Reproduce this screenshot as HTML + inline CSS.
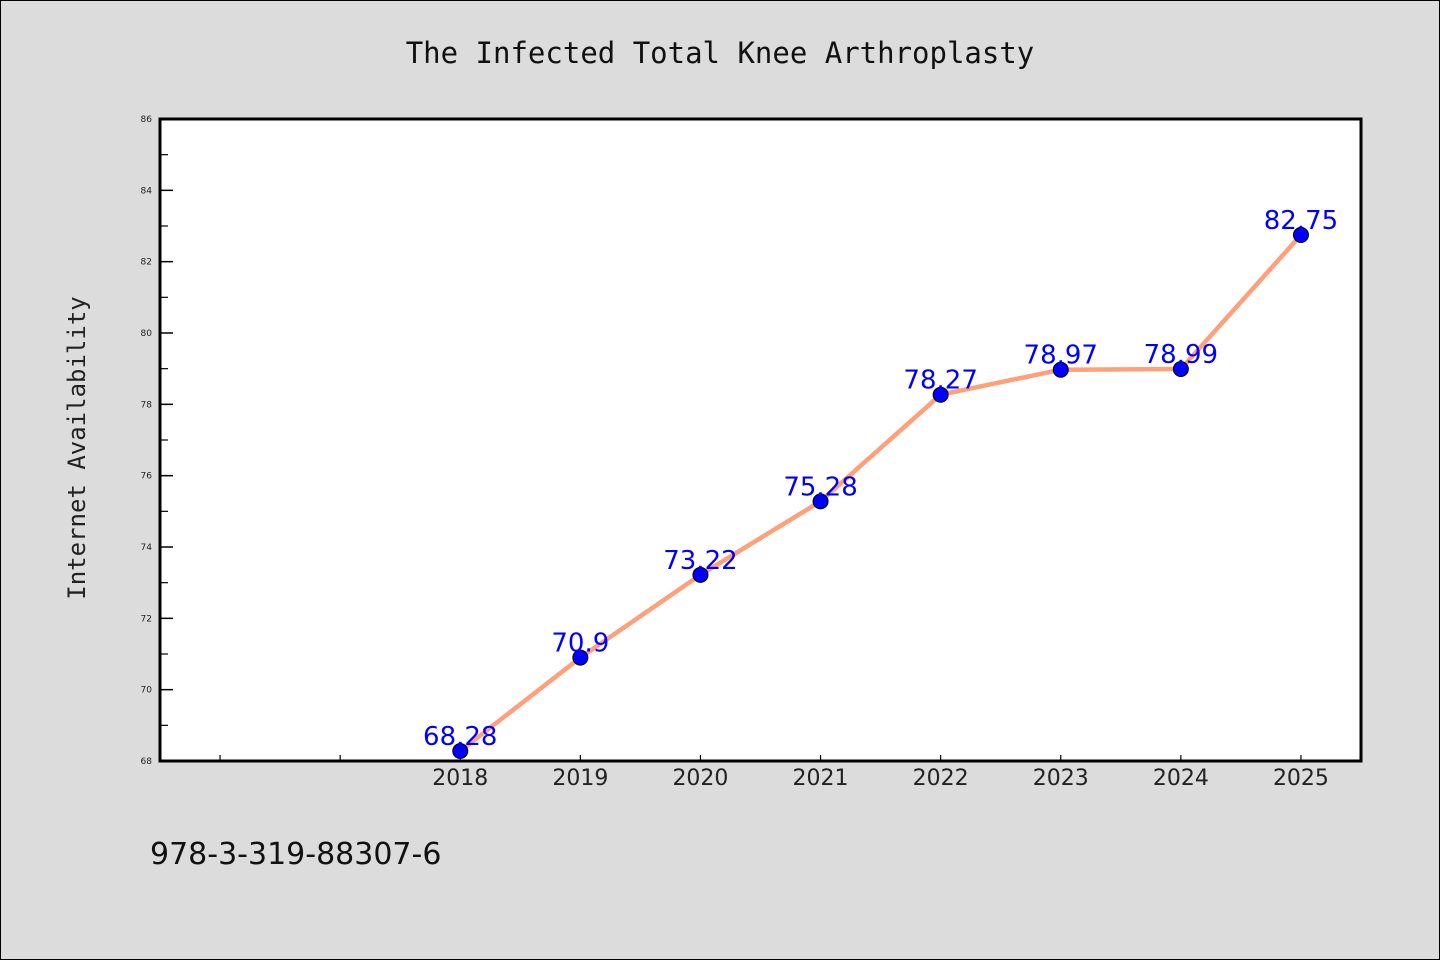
<!DOCTYPE html>
<html><head><meta charset="utf-8"><style>
html,body{margin:0;padding:0;background:#dcdcdc;}
svg{display:block;font-family:"DejaVu Sans","Liberation Sans",sans-serif;}
</style></head><body>
<svg id="chart" width="1440" height="960">
<rect x="0.5" y="0.5" width="1439" height="959" fill="#dcdcdc" stroke="#000"/>
<text x="720" y="63" text-anchor="middle" font-size="29" font-family="DejaVu Sans Mono, Liberation Mono, monospace" fill="#111">The Infected Total Knee Arthroplasty</text>
<rect x="160" y="119" width="1201" height="642" fill="#fff"/>
<g id="ticks"></g>
<g id="series"></g>
<rect x="160" y="119" width="1201" height="642" fill="none" stroke="#000" stroke-width="3"/>
<text transform="translate(85,448) rotate(-90)" text-anchor="middle" font-size="24" font-family="DejaVu Sans Mono, Liberation Mono, monospace" fill="#222">Internet Availability</text>
<text x="150" y="864" font-size="30" fill="#111">978-3-319-88307-6</text>
</svg>
<script>
const years = [2018, 2019, 2020, 2021, 2022, 2023, 2024, 2025];
const values = [68.28, 70.9, 73.22, 75.28, 78.27, 78.97, 78.99, 82.75];
const valueLabels = ["68.28", "70.9", "73.22", "75.28", "78.27", "78.97", "78.99", "82.75"];
const yTicks = [68, 70, 72, 74, 76, 78, 80, 82, 84, 86];
const xTicks = [2016, 2017, 2018, 2019, 2020, 2021, 2022, 2023, 2024, 2025];

const NS = "http://www.w3.org/2000/svg";
const L = 160, R = 1361, T = 119, B = 761;
const xMin = 2015.5, xMax = 2025.5, yMin = 68, yMax = 86;
const xs = v => L + (v - xMin) / (xMax - xMin) * (R - L);
const ys = v => B - (v - yMin) / (yMax - yMin) * (B - T);
function mk(tag, attrs, parent) {
  const e = document.createElementNS(NS, tag);
  for (const k in attrs) e.setAttribute(k, attrs[k]);
  parent.appendChild(e);
  return e;
}
const tg = document.getElementById("ticks");
const sg = document.getElementById("series");
yTicks.forEach(v => {
  const y = ys(v);
  const t = mk("line", {x1: L, x2: L + 13, y1: y, y2: y, stroke: "#000", "stroke-width": 1.5}, tg);
  
  
  const lb = mk("text", {x: L - 8, y: y + 3, "text-anchor": "end", "font-size": 9, fill: "#222"}, tg);
  lb.textContent = v;
  
  
  if (v < yMax) {
    const ym = ys(v + 1);
    const m = mk("line", {x1: L, x2: L + 8, y1: ym, y2: ym, stroke: "#000", "stroke-width": 1.2}, tg);
    
    
  }
});
xTicks.forEach(v => {
  const x = xs(v);
  const t = mk("line", {x1: x, x2: x, y1: B, y2: B - 6, stroke: "#000", "stroke-width": 1.2}, tg);
  
  
  if (years.includes(v)) {
    const lb = mk("text", {x: x, y: B + 24, "text-anchor": "middle", "font-size": 22, fill: "#222"}, tg);
    lb.textContent = v;
    
    
  }
});
const pts = years.map((yr, i) => xs(yr) + "," + ys(values[i])).join(" ");
const line = mk("polyline", {points: pts, fill: "none", stroke: "#ffa07a", "stroke-width": 4.5, "stroke-linejoin": "round"}, sg);


years.forEach((yr, i) => {
  const c = mk("circle", {cx: xs(yr), cy: ys(values[i]), r: 7.5, fill: "#0000ff", stroke: "#000", "stroke-width": 1}, sg);
  
  
  const t = mk("text", {x: xs(yr), y: ys(values[i]) - 6, "text-anchor": "middle", "font-size": 26, fill: "#0000ff"}, sg);
  t.textContent = valueLabels[i];
  
  
});
</script>
</body></html>
